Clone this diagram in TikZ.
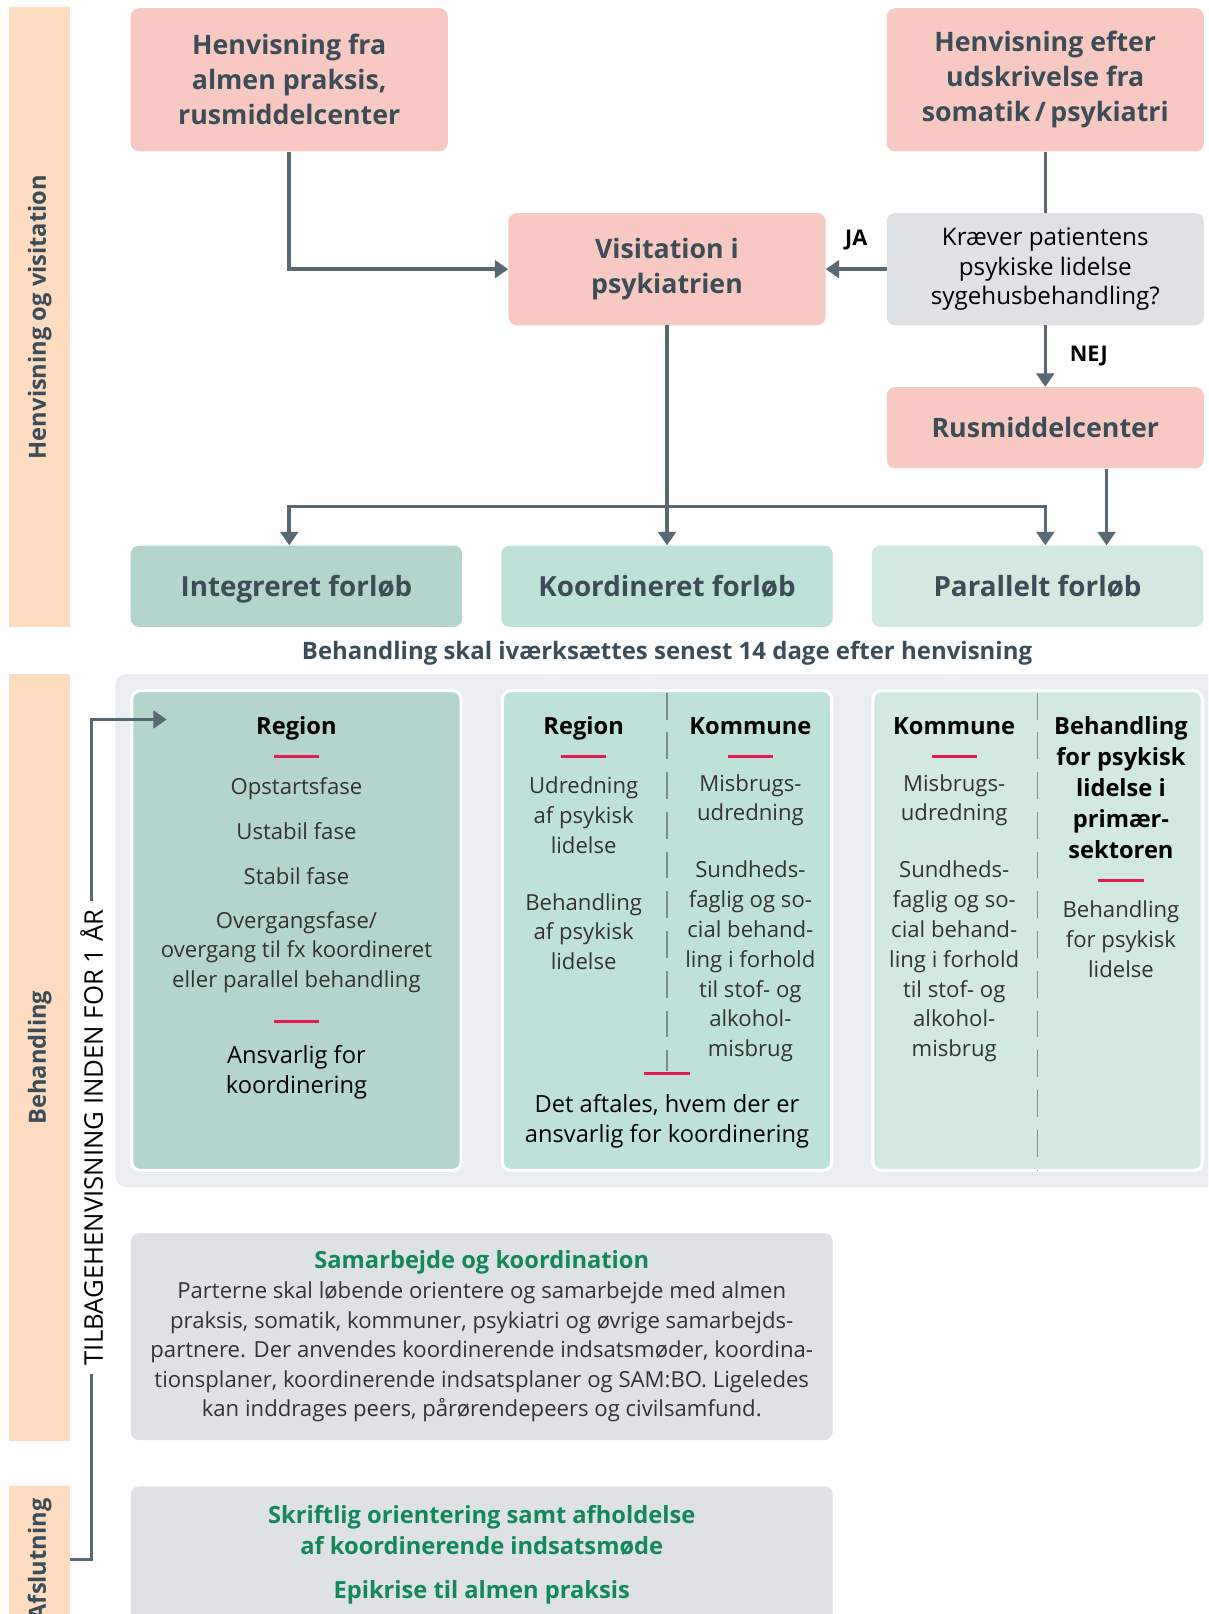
\documentclass[tikz,border=0pt]{standalone}
\usepackage{fontspec}
\setmainfont{Open Sans}
\usetikzlibrary{arrows.meta,positioning}

\definecolor{refpink}{HTML}{F8C9C3}
\definecolor{askgray}{HTML}{DEE2E5}
\definecolor{slate}{HTML}{3D4D58}
\definecolor{arrowc}{HTML}{586973}
\definecolor{integc}{HTML}{B3D5CB}
\definecolor{koordc}{HTML}{BEE2D8}
\definecolor{paralc}{HTML}{D1E9E0}
\definecolor{backc}{HTML}{EAEEF0}
\definecolor{stripc}{HTML}{FDDCBF}
\definecolor{rulec}{HTML}{E31B4F}
\definecolor{greenc}{HTML}{13885A}
\definecolor{bodyc}{HTML}{333333}
\definecolor{dashc}{HTML}{7D8B92}

\begin{document}
\begin{tikzpicture}[x=1pt, y=-1pt,
    flow/.style={draw=arrowc, line width=3.5pt, -{Triangle[width=17pt,length=13pt]}},
    link/.style={draw=arrowc, line width=3.5pt},
    refbox/.style={rounded corners=8pt, fill=refpink, text=slate, align=center, inner sep=0pt,
      minimum width=308pt, font=\bfseries\fontsize{26}{34}\selectfont},
    askbox/.style={rounded corners=8pt, fill=askgray, text=black, align=center, inner sep=0pt,
      minimum width=308pt, minimum height=109pt, font=\fontsize{23.5}{29}\selectfont},
    forloeb/.style={rounded corners=8pt, text=slate, inner sep=0pt, minimum width=322pt,
      minimum height=79pt, text height=26pt, text depth=6pt, font=\bfseries\fontsize{27}{32}\selectfont},
    strip/.style={fill=stripc, text=slate, inner sep=0pt, minimum width=59pt,
      font=\bfseries\fontsize{23}{26}\selectfont},
    answer/.style={text=black, inner sep=0pt, font=\bfseries\fontsize{21}{26}\selectfont},
    panel/.style={rounded corners=8pt, draw=white, line width=3pt, minimum width=320pt, minimum height=466pt},
    head/.style={text=black, align=center, inner sep=0pt, font=\bfseries\fontsize{23}{30}\selectfont},
    body/.style={text=bodyc, align=center, inner sep=0pt, font=\fontsize{21.5}{29}\selectfont},
    oneline/.style={text height=22pt, text depth=5pt},
    redrule/.style={draw=rulec, line width=3pt},
    divider/.style={draw=dashc, line width=1.5pt, dash pattern=on 26pt off 12.6pt},
    infobox/.style={rounded corners=8pt, fill=askgray, minimum width=682pt, inner sep=0pt},
    greentitle/.style={text=greenc, align=center, inner sep=0pt, font=\bfseries\fontsize{23}{30}\selectfont}
  ]
  \clip (0,0) rectangle (1174,1568);

  % phase strips on the left
  \node[strip, minimum height=602pt] (stripA) at (38.5,308) {\rotatebox{90}{Henvisning og visitation}};
  \node[strip, minimum height=745pt] (stripB) at (38.5,1027.5) {\rotatebox{90}{Behandling}};
  \node[strip, minimum height=142pt] (stripC) at (38.5,1515) {\rotatebox{90}{Afslutning}};

  % referral and visitation
  \node[refbox, minimum height=139pt] (hfra) at (281,77.5) {Henvisning fra\\almen praksis,\\rusmiddelcenter};
  \node[refbox, minimum height=139pt] (hefter) at (1015.5,77.5) {Henvisning efter\\udskrivelse fra\\somatik\,/\,psykiatri};
  \node[refbox, minimum height=109pt] (visit) at (648,261.5) {Visitation i\\psykiatrien};
  \node[askbox] (kraever) at (1015.5,261.5) {Kræver patientens\\psykiske lidelse\\sygehusbehandling?};
  \node[refbox, minimum height=79pt] (rus) at (1015.5,415.5) {Rusmiddelcenter};

  \node[forloeb, fill=integc] (integ) at (288,569.5) {Integreret forløb};
  \node[forloeb, fill=koordc] (koord) at (648,569.5) {Koordineret forløb};
  \node[forloeb, fill=paralc] (paral) at (1008,569.5) {Parallelt forløb};
  \node[text=slate, inner sep=0pt, font=\bfseries\fontsize{23.3}{26}\selectfont] (frist) at (648,635)
    {Behandling skal iværksættes senest 14 dage efter henvisning};

  \draw[flow] (hfra.south) |- (visit.west);
  \draw[link] (hefter.south) -- (kraever.north);
  \draw[flow] (kraever.west) -- node[answer, above=17pt] {JA} (visit.east);
  \draw[flow] (kraever.south) -- node[answer, right=22pt] {NEJ} (rus.north);
  \draw[flow] (visit.south) -- (koord.north);
  \coordinate (split) at (648,492);
  \draw[flow] (split) -| (hfra.south |- integ.north);
  \draw[flow] (split) -| (kraever.south |- paral.north);
  \draw[flow] ([xshift=59.5pt]rus.south) -- ([xshift=59.5pt]rus.south |- paral.north);

  % treatment panels
  \fill[backc, rounded corners=10pt] (112,655) rectangle (1200,1153);
  \node[panel, fill=integc] (pint) at (288,904) {};
  \node[panel, fill=koordc] (pkoord) at (648,904) {};
  \node[panel, fill=paralc] (pparal) at (1008,904) {};

  % integreret
  \node[head, oneline] (intreg) at (288,705) {Region};
  \draw[redrule] (266,735) -- (310,735);
  \node[body, oneline] (intfase1) at (288,763) {Opstartsfase};
  \node[body, oneline] (intfase2) at (288,807) {Ustabil fase};
  \node[body, oneline] (intfase3) at (288,851) {Stabil fase};
  \node[body] (intfase4) at (288,925) {Overgangsfase/\\overgang til fx koordineret\\eller parallel behandling};
  \draw[redrule] (266,992) -- (310,992);
  \node[body, text=black, font=\fontsize{23}{29}\selectfont] (intansv) at (288,1041.5) {Ansvarlig for\\koordinering};

  % koordineret
  \draw[divider] (648,673) -- (648,1040);
  \node[head, oneline] (koreg) at (567,705) {Region};
  \draw[redrule] (545,735) -- (589,735);
  \node[head, oneline] (kokom) at (729,705) {Kommune};
  \draw[redrule] (707,735) -- (751,735);
  \node[body] (koreg1) at (567,792) {Udredning\\af psykisk\\lidelse};
  \node[body] (koreg2) at (567,905) {Behandling\\af psykisk\\lidelse};
  \node[body] (kokom1) at (729,777.5) {Misbrugs-\\udredning};
  \node[body] (kokom2) at (729,934) {Sundheds-\\faglig og so-\\cial behand-\\ling i forhold\\til stof- og\\alkohol-\\misbrug};
  \draw[redrule] (626,1043) -- (670,1043);
  \node[body, text=black, font=\fontsize{23}{29}\selectfont] (koansv) at (648,1089.5) {Det aftales, hvem der er\\ansvarlig for koordinering};

  % parallelt
  \draw[divider] (1008,673) -- (1008,1137);
  \node[head, oneline] (pakom) at (927,705) {Kommune};
  \draw[redrule] (905,735) -- (949,735);
  \node[body] (pakom1) at (927,777.5) {Misbrugs-\\udredning};
  \node[body] (pakom2) at (927,934) {Sundheds-\\faglig og so-\\cial behand-\\ling i forhold\\til stof- og\\alkohol-\\misbrug};
  \node[head] (paprim) at (1089,765) {Behandling\\for psykisk\\lidelse i\\primær-\\sektoren};
  \draw[redrule] (1067,855) -- (1111,855);
  \node[body] (paprim1) at (1089,912.5) {Behandling\\for psykisk\\lidelse};

  % tilbagehenvisning
  \node[rotate=90, text=black, inner sep=8pt, font=\fontsize{25}{28}\selectfont] (tilbage) at (89,1105)
    {TILBAGEHENVISNING INDEN FOR 1 ÅR};
  \coordinate (retur) at (162,699);
  \draw[flow] (tilbage.east) |- (retur);
  \draw[link] (tilbage.west) |- (stripC.east);

  % samarbejde og afslutning
  \node[infobox, minimum height=201pt] (samarb) at (468,1298.5) {};
  \node[greentitle] (samtitel) at (468,1226) {Samarbejde og koordination};
  \node[body, font=\fontsize{21.5}{28.75}\selectfont] (samtekst) at (468,1313.5)
    {Parterne skal løbende orientere og samarbejde med almen\\
     praksis, somatik, kommuner, psykiatri og øvrige samarbejds-\\
     partnere. Der anvendes koordinerende indsatsmøder, koordina-\\
     tionsplaner, koordinerende indsatsplaner og SAM:BO. Ligeledes\\
     kan inddrages peers, pårørendepeers og civilsamfund.};
  \node[infobox, minimum height=160pt] (afslut) at (468,1524) {};
  \node[greentitle] (skriftlig) at (468,1487) {Skriftlig orientering samt afholdelse\\af koordinerende indsatsmøde};
  \node[greentitle] (epikrise) at (468,1547) {Epikrise til almen praksis};
\end{tikzpicture}
\end{document}
